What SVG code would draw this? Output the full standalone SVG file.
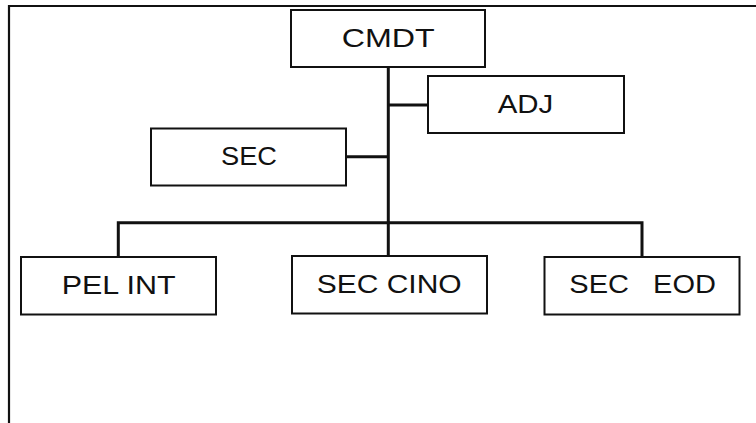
<svg xmlns="http://www.w3.org/2000/svg" width="756" height="423" viewBox="0 0 756 423">
<style>
.box{fill:#fff;stroke:#111;stroke-width:2}
.lbl{font-family:"Liberation Sans",Arial,sans-serif;font-size:26px;fill:#111}
.con{stroke:#111;stroke-width:3;fill:none}
.frame{stroke:#111;stroke-width:2.2;fill:none}
</style>
<rect x="0" y="0" width="756" height="423" fill="#fff"/>
<path class="frame" d="M9,423 V6 H756"/>
<g id="connectors">
<line class="con" x1="388.3" y1="67" x2="388.3" y2="256"/>
<line class="con" x1="388.3" y1="105" x2="428" y2="105"/>
<line class="con" x1="346" y1="156.7" x2="388.3" y2="156.7"/>
<path class="con" d="M118.3,257 V222.7 H642 V257"/>
</g>
<g id="cmdt">
<rect class="box" x="291" y="10" width="194" height="57"/>
<text class="lbl" x="341.7" y="46.7" textLength="93" lengthAdjust="spacingAndGlyphs">CMDT</text>
</g>
<g id="adj">
<rect class="box" x="428" y="76" width="196" height="57"/>
<text class="lbl" x="497.7" y="112.7" textLength="55.6" lengthAdjust="spacingAndGlyphs">ADJ</text>
</g>
<g id="sec">
<rect class="box" x="151" y="128.5" width="195" height="57"/>
<text class="lbl" x="221" y="165.3" textLength="56" lengthAdjust="spacingAndGlyphs">SEC</text>
</g>
<g id="pel-int">
<rect class="box" x="21" y="257" width="195" height="57.5"/>
<text class="lbl" x="61.7" y="294" textLength="114" lengthAdjust="spacingAndGlyphs">PEL INT</text>
</g>
<g id="sec-cino">
<rect class="box" x="292" y="256" width="195" height="57.5"/>
<text class="lbl" x="316.7" y="292.7" textLength="145" lengthAdjust="spacingAndGlyphs">SEC CINO</text>
</g>
<g id="sec-eod">
<rect class="box" x="544.5" y="257" width="195" height="57.5"/>
<text class="lbl" x="569.3" y="293.3" textLength="146.7" lengthAdjust="spacingAndGlyphs" xml:space="preserve">SEC   EOD</text>
</g>
</svg>
